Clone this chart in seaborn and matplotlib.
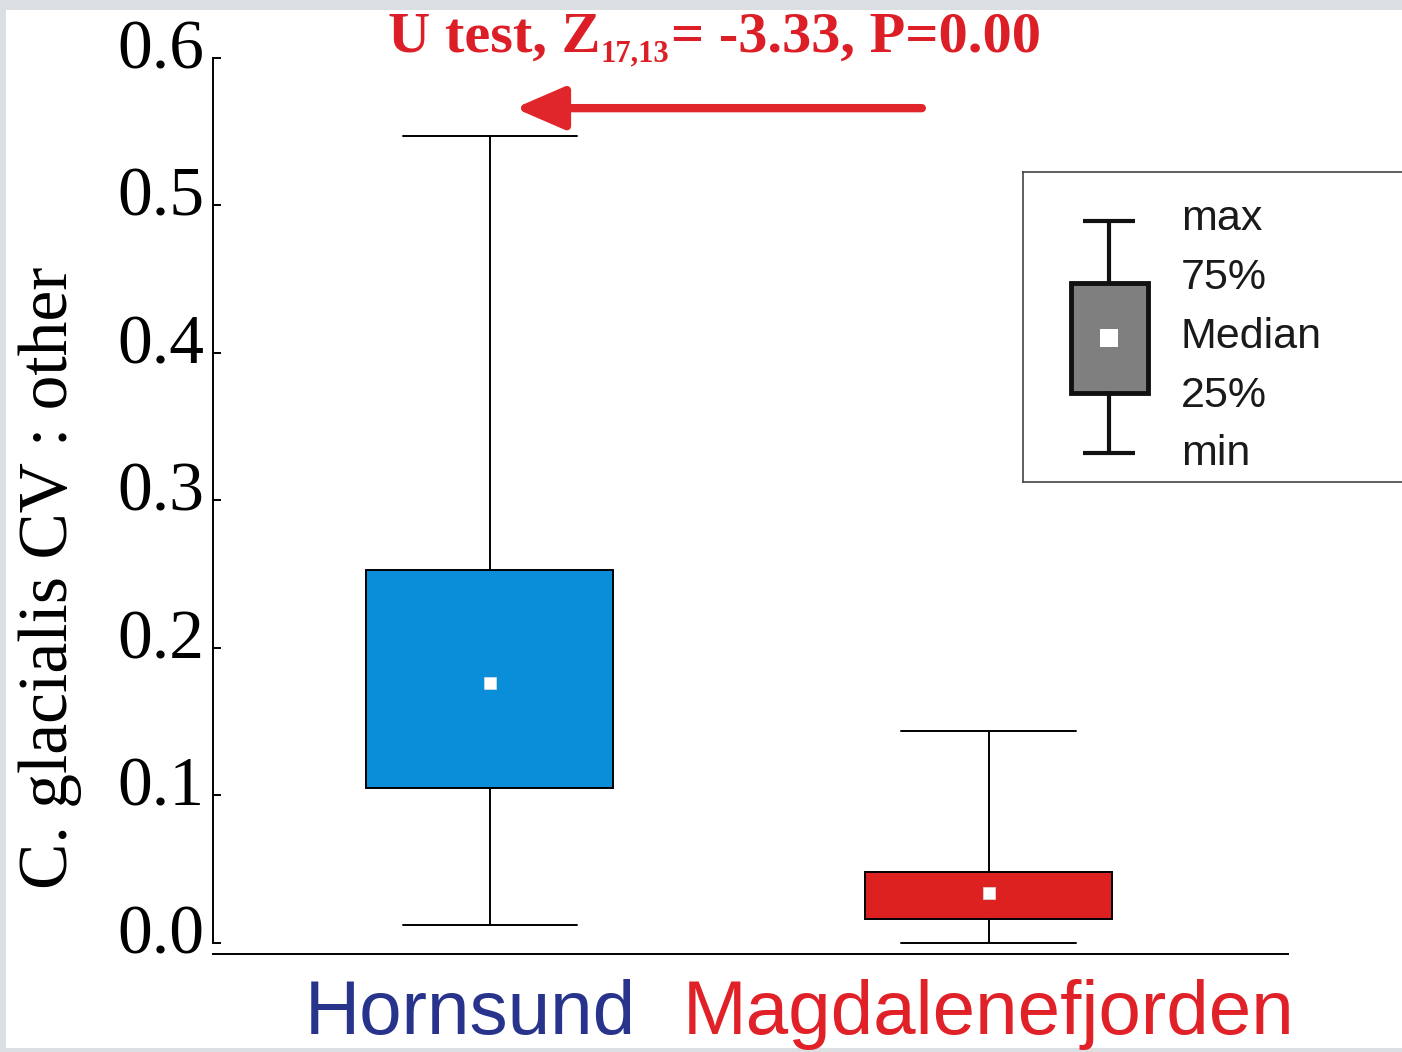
import matplotlib
matplotlib.use("Agg")
import matplotlib.pyplot as plt
from matplotlib.patches import Rectangle
from matplotlib.transforms import ScaledTranslation
import numpy as np
import pandas as pd
import seaborn as sns

# five-number summaries: min, 25%, median, 75%, max
sites = ["Hornsund", "Magdalenefjorden"]
hornsund_stats = [0.012, 0.105, 0.176, 0.253, 0.547]
magdalene_stats = [0.0, 0.016, 0.034, 0.048, 0.144]
yticks = [0.0, 0.1, 0.2, 0.3, 0.4, 0.5, 0.6]
legend_labels = ["max", "75%", "Median", "25%", "min"]

box_colors = {"Hornsund": "#0a8ed9", "Magdalenefjorden": "#dd2020"}
label_colors = {"Hornsund": "#28348c", "Magdalenefjorden": "#e02228"}
red = "#e0262a"

df = pd.DataFrame({
    "site": [sites[0]] * len(hornsund_stats) + [sites[1]] * len(magdalene_stats),
    "value": hornsund_stats + magdalene_stats,
})
medians = df.groupby("site", sort=False)["value"].median().values

sns.set_theme(style="white")
plt.rcParams["font.family"] = ["Liberation Serif", "DejaVu Serif"]
plt.rcParams["text.color"] = "black"
plt.rcParams["axes.labelcolor"] = "black"
plt.rcParams["ytick.color"] = "black"
plt.rcParams["xtick.color"] = "black"

fig = plt.figure(figsize=(14.02, 10.52), dpi=100)
fig.patch.set_facecolor("#dcdfe2")
fig.patches.append(Rectangle((6 / 1402, 4 / 1052), 1, 1 - 14 / 1052, transform=fig.transFigure,
                             facecolor="white", edgecolor="none", zorder=-1))

ax = fig.add_axes([213 / 1402, 1 - 954 / 1052, 1075 / 1402, 896 / 1052])
ax.set_facecolor("white")

sns.boxplot(data=df, x="site", y="value", hue="site", palette=box_colors, legend=False,
            order=sites, saturation=1, width=0.495, whis=(0, 100), capwidths=0.35,
            linecolor="black", linewidth=1.4, medianprops={"visible": False},
            showfliers=False, ax=ax)
ax.scatter(range(len(sites)), medians, marker="s", s=70, color="white",
           edgecolor="#dddddd", linewidth=0.5, zorder=5)

ax.set_xlim(-0.555, 1.6)
ax.set_ylim(-0.0075, 0.6)
ax.set_yticks(yticks)
ax.set_yticklabels([f"{t:.1f}" for t in yticks], fontsize=50)
ax.tick_params(axis="y", direction="in", length=6, width=1.4, color="black", pad=6, left=True)
ax.tick_params(axis="x", length=0, pad=18)
ax.set_xticks(range(len(sites)))
ax.set_xticklabels(sites, fontsize=55, family="Liberation Sans")
for lbl in ax.get_xticklabels():
    lbl.set_color(label_colors[lbl.get_text()])
    if lbl.get_text() == "Hornsund":
        lbl.set_transform(lbl.get_transform() + ScaledTranslation(-0.2, 0, fig.dpi_scale_trans))
for lbl in ax.get_yticklabels():
    lbl.set_transform(lbl.get_transform() + ScaledTranslation(0, 0.14, fig.dpi_scale_trans))

for side in ["top", "right"]:
    ax.spines[side].set_visible(False)
ax.spines["left"].set_bounds(0, 0.6)
for side in ["left", "bottom"]:
    ax.spines[side].set_color("black")
    ax.spines[side].set_linewidth(1.4)

ax.set_xlabel("")
ax.set_ylabel("C. glacialis CV : other", fontsize=50, color="black")
ax.yaxis.set_label_coords(-0.122, 0.42)

# test result title, built in three pieces so the subscript can be small and low
title_kw = dict(fontweight="bold", color="#dc1f26")
t1 = ax.text(0.163, 1.0067, "U test, Z", transform=ax.transAxes, ha="left", va="baseline",
             fontsize=42, **title_kw)
t2 = ax.annotate("17,13", xy=(1, 0), xycoords=t1, xytext=(0, -3), textcoords="offset points",
                 ha="left", va="bottom", fontsize=22, **title_kw)
t3 = ax.annotate("= -3.33, P=0.00", xy=(1, 0), xycoords=(t2, t1), xytext=(1, 0),
                 textcoords="offset points", ha="left", va="bottom", fontsize=42, **title_kw)

ax.annotate("", xy=(0.05, 0.566), xytext=(0.866, 0.566),
            arrowprops=dict(arrowstyle="-|>,head_length=1.5,head_width=0.65", color=red,
                            lw=6, mutation_scale=20, shrinkA=0, shrinkB=0))

# legend key drawn in pixel-like coordinates
lax = fig.add_axes([1023 / 1402, 1 - 482 / 1052, 390 / 1402, 310 / 1052])
lax.set_xlim(1023, 1413)
lax.set_ylim(482, 172)
lax.set_xticks([])
lax.set_yticks([])
lax.set_facecolor("white")
for side in lax.spines.values():
    side.set_color("#444444")
    side.set_linewidth(1.2)
lax.plot([1109, 1109], [221, 283], color="#111111", lw=3)
lax.plot([1109, 1109], [393, 453], color="#111111", lw=3)
lax.plot([1083, 1135], [221, 221], color="#111111", lw=3, solid_capstyle="butt")
lax.plot([1083, 1135], [453, 453], color="#111111", lw=3, solid_capstyle="butt")
lax.add_patch(Rectangle((1071, 283), 77, 110, facecolor="#7f7f7f", edgecolor="#111111", lw=3.5))
lax.add_patch(Rectangle((1100, 329), 18, 18, facecolor="white", edgecolor="none"))
for lbl, yb in zip(legend_labels, [230, 289, 348, 407, 465]):
    lax.text(1181, yb, lbl, fontsize=31, family="Liberation Sans", color="#1a1a1a", va="baseline")

fig.savefig("out.png", dpi=100, facecolor=fig.get_facecolor())
